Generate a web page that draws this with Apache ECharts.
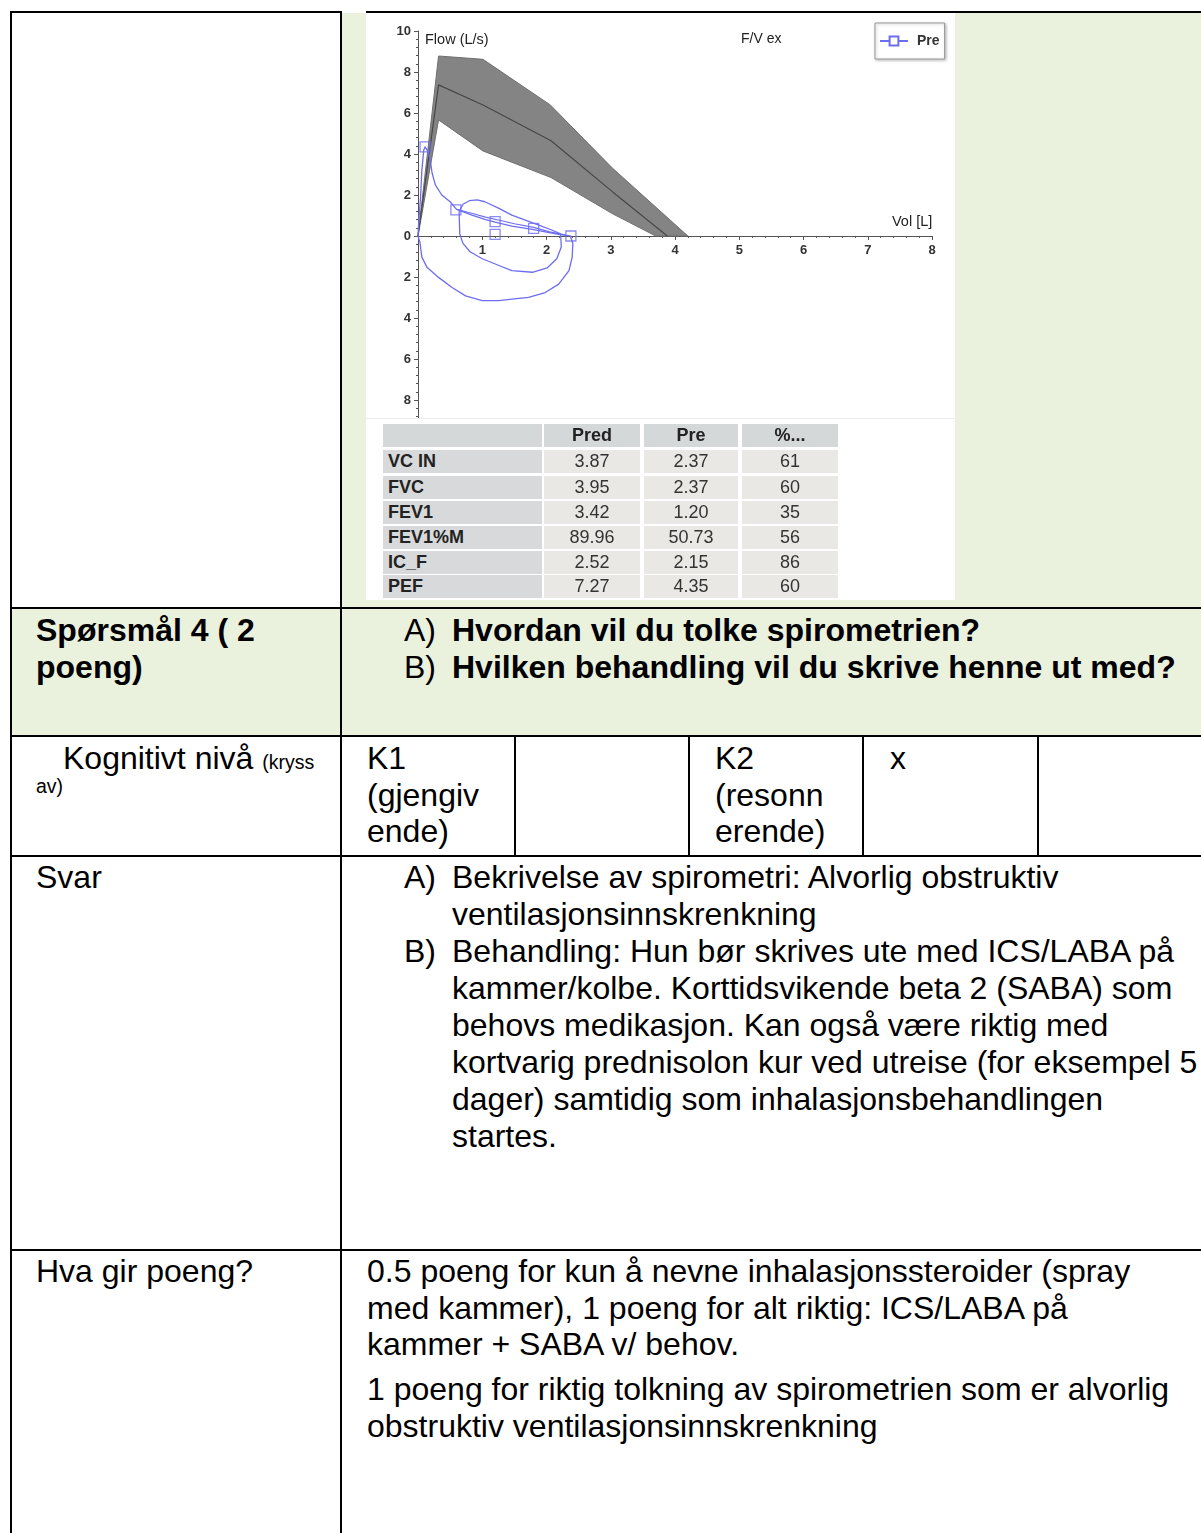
<!DOCTYPE html>
<html>
<head>
<meta charset="utf-8">
<script src="https://cdn.jsdelivr.net/npm/echarts@6/dist/echarts.min.js"></script>
<style>
body{margin:0;width:1201px;height:1533px;overflow:hidden;background:#fff;font-family:"Liberation Sans",Arial,sans-serif;position:relative;}
.ln{position:absolute;background:#000;z-index:5;}
.bg{position:absolute;background:#eaf1dd;}
.t{position:absolute;white-space:nowrap;font-size:32px;line-height:37px;color:#000;z-index:4;}
.b{font-weight:bold;}
.sm{font-size:19.5px;}
.cell{position:absolute;height:23px;line-height:23px;font-size:18px;color:#333;text-align:center;z-index:3;white-space:nowrap;}
#chart{position:absolute;left:366px;top:12px;width:589px;height:588px;background:#fff;z-index:1;}
</style>
</head>
<body>
<!-- backgrounds -->
<div class="bg" style="left:342px;top:13px;width:859px;height:594px;"></div>
<div class="bg" style="left:12px;top:609px;width:1189px;height:126px;"></div>

<div id="chart"></div>
<div style="position:absolute;left:366px;top:418px;width:589px;height:1px;background:#ececec;z-index:2;"></div>
<div id="tbl"></div>

<!-- borders -->
<div class="ln" style="left:10px;top:11px;width:332px;height:2px;"></div>
<div class="ln" style="left:366px;top:11px;width:835px;height:2px;"></div>
<div class="ln" style="left:10px;top:11px;width:2px;height:1522px;"></div>
<div class="ln" style="left:340px;top:11px;width:2px;height:1522px;"></div>
<div class="ln" style="left:10px;top:607px;width:1191px;height:2px;"></div>
<div class="ln" style="left:10px;top:735px;width:1191px;height:2px;"></div>
<div class="ln" style="left:10px;top:855px;width:1191px;height:2px;"></div>
<div class="ln" style="left:10px;top:1249px;width:1191px;height:2px;"></div>
<div class="ln" style="left:514px;top:735px;width:2px;height:122px;"></div>
<div class="ln" style="left:688px;top:735px;width:2px;height:122px;"></div>
<div class="ln" style="left:862px;top:735px;width:2px;height:122px;"></div>
<div class="ln" style="left:1037px;top:735px;width:2px;height:122px;"></div>

<!-- row 2 -->
<div class="t b" style="left:36px;top:612px;">Spørsmål 4 ( 2</div>
<div class="t b" style="left:36px;top:649px;">poeng)</div>
<div class="t" style="left:404px;top:612px;">A)</div>
<div class="t b" style="left:452px;top:612px;">Hvordan vil du tolke spirometrien?</div>
<div class="t" style="left:404px;top:649px;">B)</div>
<div class="t b" style="left:452px;top:649px;">Hvilken behandling vil du skrive henne ut med?</div>

<!-- row 3 -->
<div class="t" style="left:63px;top:740px;">Kognitivt nivå <span class="sm">(kryss</span></div>
<div class="t sm" style="left:36px;top:775px;line-height:23px;">av)</div>
<div class="t" style="left:367px;top:740px;">K1</div>
<div class="t" style="left:367px;top:777px;">(gjengiv</div>
<div class="t" style="left:367px;top:813px;">ende)</div>
<div class="t" style="left:715px;top:740px;">K2</div>
<div class="t" style="left:715px;top:777px;">(resonn</div>
<div class="t" style="left:715px;top:813px;">erende)</div>
<div class="t" style="left:890px;top:740px;">x</div>

<!-- row 4 -->
<div class="t" style="left:36px;top:859px;">Svar</div>
<div class="t" style="left:404px;top:859px;">A)</div>
<div class="t" style="left:452px;top:859px;">Bekrivelse av spirometri: Alvorlig obstruktiv</div>
<div class="t" style="left:452px;top:896px;">ventilasjonsinnskrenkning</div>
<div class="t" style="left:404px;top:933px;">B)</div>
<div class="t" style="left:452px;top:933px;">Behandling: Hun bør skrives ute med ICS/LABA på</div>
<div class="t" style="left:452px;top:970px;">kammer/kolbe. Korttidsvikende beta 2 (SABA) som</div>
<div class="t" style="left:452px;top:1007px;">behovs medikasjon. Kan også være riktig med</div>
<div class="t" style="left:452px;top:1044px;">kortvarig prednisolon kur ved utreise (for eksempel 5</div>
<div class="t" style="left:452px;top:1081px;">dager) samtidig som inhalasjonsbehandlingen</div>
<div class="t" style="left:452px;top:1118px;">startes.</div>

<!-- row 5 -->
<div class="t" style="left:36px;top:1253px;">Hva gir poeng?</div>
<div class="t" style="left:367px;top:1253px;">0.5 poeng for kun å nevne inhalasjonssteroider (spray</div>
<div class="t" style="left:367px;top:1290px;">med kammer), 1 poeng for alt riktig: ICS/LABA på</div>
<div class="t" style="left:367px;top:1326px;">kammer + SABA v/ behov.</div>
<div class="t" style="left:367px;top:1371px;">1 poeng for riktig tolkning av spirometrien som er alvorlig</div>
<div class="t" style="left:367px;top:1408px;">obstruktiv ventilasjonsinnskrenkning</div>

<script>
// ---- axis ranges ----
const volMin = 0, volMax = 8;
const flowMin = -8.88, flowMax = 10;

// ---- predicted band (volume L, flow L/s) ----
const predUpperVol  = [0, 0.32, 1.01, 2.06, 3.03, 4.2];
const predUpperFlow = [0, 8.78, 8.62, 6.39, 3.3, 0];
const predLowerVol  = [0, 0.32, 1.01, 2.07, 3.03, 3.7];
const predLowerFlow = [0, 5.66, 4.15, 2.85, 1.08, 0];
const predMidVol    = [0, 0.32, 1.02, 2.07, 3.03, 3.88];
const predMidFlow   = [0, 7.37, 6.38, 4.65, 2.15, 0];

// ---- measured loops (Pre) ----
const pre1Vol  = [0, 0.01, 0.04, 0.06, 0.09, 0.11, 0.16, 0.19, 0.22, 0.27, 0.37, 0.50, 0.60, 0.84, 1.04, 1.20, 1.46, 1.78, 1.98, 2.19, 2.37, 2.41, 2.40, 2.35, 2.19, 1.98, 1.72, 1.46, 1.26, 1.00, 0.74, 0.53, 0.32, 0.14, 0.06, 0.03, 0];
const pre1Flow = [0, 0.62, 1.9, 3.2, 4.2, 4.35, 4.1, 3.7, 3.06, 2.49, 2.0, 1.67, 1.3, 1.02, 0.81, 0.68, 0.48, 0.32, 0.2, 0.08, 0, -0.37, -1.03, -1.69, -2.35, -2.76, -3.0, -3.08, -3.15, -3.15, -2.92, -2.51, -2.02, -1.53, -1.03, -0.3, 0];
const pre2Vol  = [0.64, 0.70, 0.80, 0.92, 1.04, 1.26, 1.46, 1.67, 1.88, 2.09, 2.22, 2.23, 2.16, 2.01, 1.78, 1.46, 1.26, 1.00, 0.81, 0.70, 0.65, 0.64];
const pre2Flow = [1.18, 1.55, 1.72, 1.76, 1.67, 1.35, 1.02, 0.77, 0.53, 0.28, 0.1, -0.54, -1.11, -1.56, -1.77, -1.69, -1.44, -1.11, -0.77, -0.36, 0.1, 1.18];
const pre3Vol  = [0.6, 0.85, 1.05, 1.25, 1.5, 1.8, 2.05, 2.3];
const pre3Flow = [1.3, 1.1, 0.92, 0.78, 0.6, 0.42, 0.2, 0.04];
const markVol  = [0.11, 0.59, 1.2, 1.2, 1.8, 2.38];
const markFlow = [4.35, 1.27, 0.7, 0.08, 0.37, 0];

// ---- result table ----
const tableHead = ['', 'Pred', 'Pre', '%...'];
const tableRows = ['VC IN', 'FVC', 'FEV1', 'FEV1%M', 'IC_F', 'PEF'];
const predVals  = ['3.87', '3.95', '3.42', '89.96', '2.52', '7.27'];
const preVals   = ['2.37', '2.37', '1.20', '50.73', '2.15', '4.35'];
const pctVals   = ['61', '60', '35', '56', '86', '60'];

function zip(a, b) { return a.map((v, i) => [v, b[i]]); }

// build table
(function () {
  const colX = [383, 544, 644, 742];
  const colW = [159, 96, 94, 96];
  const rowY = [424, 450, 476, 501, 526, 551, 575];
  const host = document.getElementById('tbl');
  let html = '';
  const cols = [tableRows, predVals, preVals, pctVals];
  for (let r = 0; r < rowY.length; r++) {
    for (let c = 0; c < 4; c++) {
      let txt, bg, st = '';
      if (r === 0) { txt = tableHead[c]; bg = '#d5d8d9'; st = 'font-weight:bold;color:#222;'; }
      else {
        txt = cols[c][r - 1];
        if (c === 0) { bg = '#d7d9da'; st = 'font-weight:bold;color:#222;text-align:left;padding-left:5px;'; }
        else { bg = '#e9e8e5'; }
      }
      const w = c === 0 && r > 0 ? colW[c] - 5 : colW[c];
      html += '<div class="cell" style="left:' + colX[c] + 'px;top:' + rowY[r] + 'px;width:' + w + 'px;background:' + bg + ';' + st + '">' + txt + '</div>';
    }
  }
  host.innerHTML = html;
})();

const BLUE = '#6d6df0';
const AX = '#555';
const gridH = 387;
// place the volume axis on the zero-flow line
const xAxisOffset = -gridH * (0 - flowMin) / (flowMax - flowMin);

const chart = echarts.init(document.getElementById('chart'), null, { renderer: 'canvas' });
chart.setOption({
  animation: false,
  backgroundColor: '#fff',
  title: [
    { text: 'Flow (L/s)', left: 59, top: 20, padding: 0, textStyle: { fontSize: 14.5, fontWeight: 'normal', color: '#222', fontFamily: 'Liberation Sans' } },
    { text: 'F/V ex', left: 375, top: 20, padding: 0, textStyle: { fontSize: 14, fontWeight: 'normal', color: '#222', fontFamily: 'Liberation Sans' } }
  ],
  legend: {
    data: ['Pre'], left: 509, top: 11, orient: 'horizontal',
    padding: [11, 5, 11, 4], itemWidth: 28, itemHeight: 11,
    borderColor: '#9a9a9a', borderWidth: 1, backgroundColor: '#fff',
    shadowBlur: 3, shadowColor: 'rgba(0,0,0,0.25)', shadowOffsetX: 1, shadowOffsetY: 1,
    textStyle: { fontSize: 14, fontWeight: 'bold', color: '#333', fontFamily: 'Liberation Sans', padding: [0, 0, 0, 4] }
  },
  grid: { left: 52, top: 19, width: 514, height: gridH, containLabel: false },
  xAxis: {
    type: 'value', min: volMin, max: volMax, interval: 1,
    position: 'bottom', offset: xAxisOffset,
    name: 'Vol [L]', nameLocation: 'end', nameGap: -40,
    nameTextStyle: { fontSize: 14.5, color: '#222', verticalAlign: 'bottom', padding: [0, 0, 6, 0], fontFamily: 'Liberation Sans' },
    axisLine: { onZero: false, lineStyle: { color: AX, width: 1 } },
    axisTick: { show: true, length: 4, lineStyle: { color: AX } },
    minorTick: { show: true, splitNumber: 5, length: 2, lineStyle: { color: AX } },
    splitLine: { show: false },
    axisLabel: { margin: 8, fontSize: 13, fontWeight: 'bold', color: '#333', fontFamily: 'Liberation Sans', formatter: v => (v === 0 ? '' : String(v)) }
  },
  yAxis: {
    type: 'value', min: flowMin, max: flowMax, minInterval: 2, maxInterval: 2,
    axisLine: { show: true, onZero: false, lineStyle: { color: AX, width: 1 } },
    axisTick: { show: true, length: 4, lineStyle: { color: AX } },
    minorTick: { show: true, splitNumber: 5, length: 2, lineStyle: { color: AX } },
    splitLine: { show: false },
    axisLabel: { showMinLabel: false, margin: 7, fontSize: 13, fontWeight: 'bold', color: '#333', fontFamily: 'Liberation Sans', formatter: v => String(Math.abs(Math.round(v))) }
  },
  series: [
    {
      type: 'custom', name: 'band', silent: true, z: 1,
      data: [[0, 0]],
      renderItem: function (params, api) {
        const pts = [];
        for (let i = 0; i < predUpperVol.length; i++) pts.push(api.coord([predUpperVol[i], predUpperFlow[i]]));
        for (let i = predLowerVol.length - 1; i >= 0; i--) pts.push(api.coord([predLowerVol[i], predLowerFlow[i]]));
        return { type: 'polygon', shape: { points: pts }, style: { fill: '#848484', stroke: '#707070', lineWidth: 1 } };
      }
    },
    { type: 'line', name: 'Pred', data: zip(predMidVol, predMidFlow), symbol: 'none', silent: true, z: 2, lineStyle: { color: '#474747', width: 1.2 } },
    { type: 'line', name: 'Pre', data: zip(pre1Vol, pre1Flow), symbol: 'emptyRect', symbolSize: 9, showSymbol: false, silent: true, z: 3, lineStyle: { color: BLUE, width: 1.3 }, itemStyle: { color: BLUE } },
    { type: 'line', name: 'Pre2', data: zip(pre2Vol, pre2Flow), symbol: 'none', silent: true, z: 3, lineStyle: { color: BLUE, width: 1.3 } },
    { type: 'line', name: 'Pre3', data: zip(pre3Vol, pre3Flow), symbol: 'none', silent: true, z: 3, lineStyle: { color: BLUE, width: 1.1 } },
    { type: 'scatter', name: 'PreMarks', data: zip(markVol, markFlow), symbol: 'rect', symbolSize: 10, silent: true, z: 4, itemStyle: { color: 'rgba(255,255,255,0)', borderColor: BLUE, borderWidth: 1.3 } }
  ]
});
</script>
</body>
</html>
